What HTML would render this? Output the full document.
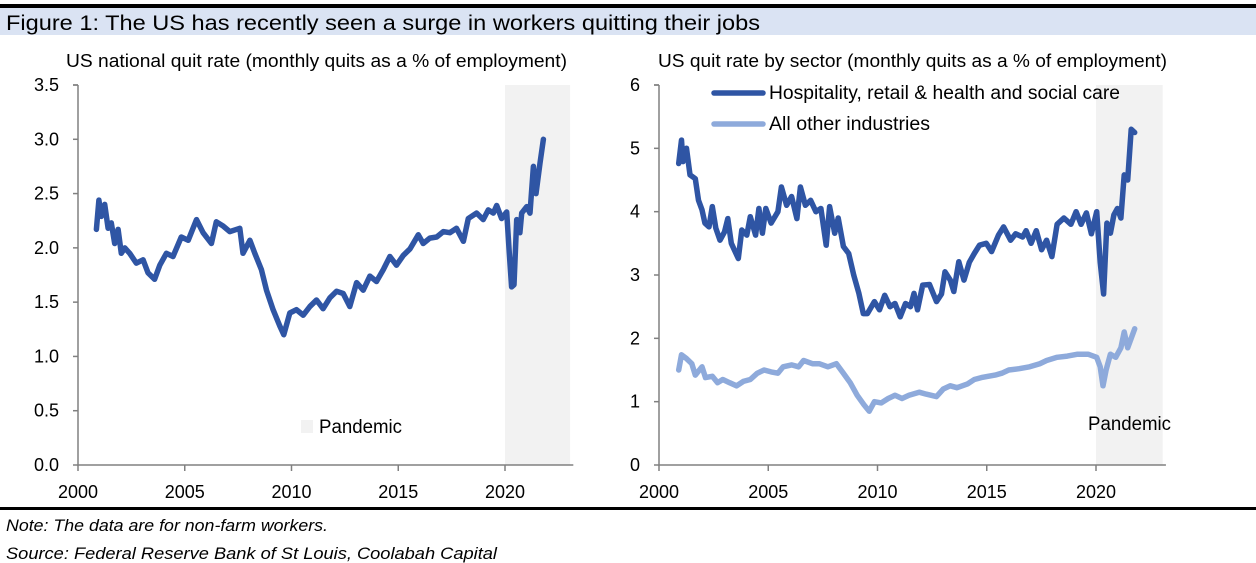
<!DOCTYPE html>
<html><head><meta charset="utf-8"><style>
html,body{margin:0;padding:0;background:#fff;}
svg{display:block;font-family:"Liberation Sans",sans-serif;}
</style></head><body>
<svg id="s" width="1256" height="563" xmlns="http://www.w3.org/2000/svg">
<rect x="0" y="4" width="1256" height="4" fill="#000"/>
<rect x="0" y="8" width="1256" height="27" fill="#dae3f3"/>
<text x="6" y="30" font-size="21" textLength="754" lengthAdjust="spacingAndGlyphs" fill="#000">Figure 1: The US has recently seen a surge in workers quitting their jobs</text>
<text x="66" y="67" font-size="18" textLength="501" lengthAdjust="spacingAndGlyphs">US national quit rate (monthly quits as a % of employment)</text>
<text x="658" y="67" font-size="18" textLength="509" lengthAdjust="spacingAndGlyphs">US quit rate by sector (monthly quits as a % of employment)</text>
<g id="left"></g>
<g id="right"></g>
<rect x="0" y="507" width="1256" height="3" fill="#000"/>
<text x="6" y="531" font-size="17" font-style="italic" textLength="322" lengthAdjust="spacingAndGlyphs">Note: The data are for non-farm workers.</text>
<text x="6" y="559" font-size="17" font-style="italic" textLength="491" lengthAdjust="spacingAndGlyphs">Source: Federal Reserve Bank of St Louis, Coolabah Capital</text>
</svg>
<script>
const natYears=[2000.86,2000.98,2001.09,2001.25,2001.41,2001.56,2001.72,2001.88,2002.03,2002.19,2002.42,2002.73,2003.05,2003.28,2003.59,2003.83,2004.14,2004.45,2004.84,2005.16,2005.55,2005.86,2006.25,2006.48,2006.80,2007.11,2007.58,2007.73,2008.05,2008.28,2008.59,2008.83,2009.14,2009.45,2009.64,2009.92,2010.23,2010.55,2010.86,2011.17,2011.48,2011.80,2012.11,2012.42,2012.73,2013.05,2013.36,2013.67,2013.98,2014.30,2014.61,2014.92,2015.23,2015.55,2015.94,2016.17,2016.48,2016.80,2017.11,2017.42,2017.73,2018.05,2018.28,2018.67,2018.98,2019.22,2019.45,2019.61,2019.84,2020.08,2020.20,2020.31,2020.42,2020.55,2020.70,2020.78,2021.02,2021.17,2021.33,2021.45,2021.64,2021.80];
const natVals=[2.17,2.44,2.29,2.40,2.18,2.23,2.04,2.17,1.95,2.00,1.95,1.86,1.89,1.77,1.71,1.84,1.95,1.92,2.10,2.07,2.26,2.14,2.04,2.24,2.20,2.15,2.18,1.95,2.07,1.95,1.80,1.61,1.43,1.28,1.20,1.40,1.43,1.38,1.46,1.52,1.44,1.54,1.60,1.58,1.46,1.68,1.61,1.74,1.69,1.80,1.92,1.84,1.93,1.99,2.12,2.04,2.09,2.10,2.15,2.14,2.18,2.06,2.27,2.32,2.26,2.35,2.32,2.39,2.27,2.33,1.95,1.64,1.66,2.26,2.14,2.32,2.38,2.32,2.75,2.50,2.78,3.00];
const hospYears=[2000.90,2001.03,2001.10,2001.26,2001.42,2001.66,2001.81,2001.97,2002.10,2002.29,2002.44,2002.60,2002.79,2003.00,2003.15,2003.31,2003.63,2003.79,2004.02,2004.18,2004.42,2004.57,2004.73,2004.89,2005.13,2005.44,2005.60,2005.84,2006.07,2006.31,2006.47,2006.70,2006.94,2007.18,2007.41,2007.65,2007.81,2008.04,2008.20,2008.44,2008.68,2008.91,2009.15,2009.35,2009.54,2009.86,2010.09,2010.33,2010.57,2010.80,2011.04,2011.28,2011.51,2011.67,2011.83,2012.07,2012.38,2012.70,2012.93,2013.09,2013.33,2013.49,2013.72,2013.96,2014.20,2014.43,2014.67,2014.98,2015.22,2015.54,2015.77,2016.09,2016.32,2016.64,2016.80,2017.03,2017.27,2017.51,2017.74,2017.98,2018.22,2018.53,2018.85,2019.09,2019.32,2019.56,2019.79,2020.03,2020.19,2020.35,2020.50,2020.66,2020.82,2020.98,2021.14,2021.29,2021.45,2021.61,2021.77];
const hospVals=[4.76,5.13,4.79,5.0,4.58,4.52,4.18,4.03,3.82,3.76,4.08,3.74,3.55,3.68,3.89,3.5,3.26,3.71,3.63,3.92,3.63,4.05,3.66,4.05,3.82,4.0,4.39,4.1,4.24,3.89,4.39,4.1,4.18,4.0,4.05,3.47,4.08,3.66,3.9,3.45,3.34,3.0,2.71,2.39,2.39,2.58,2.45,2.68,2.5,2.55,2.34,2.55,2.5,2.71,2.45,2.84,2.85,2.58,2.7,3.05,2.92,2.74,3.21,2.92,3.2,3.34,3.47,3.5,3.37,3.63,3.76,3.55,3.65,3.6,3.7,3.5,3.7,3.4,3.55,3.29,3.8,3.9,3.8,4.0,3.8,3.98,3.65,4.0,3.2,2.7,3.82,3.66,3.95,4.05,3.9,4.58,4.5,5.3,5.25];
const otherYears=[2000.90,2001.03,2001.26,2001.50,2001.66,2001.97,2002.13,2002.44,2002.68,2002.92,2003.23,2003.55,2003.86,2004.18,2004.50,2004.81,2005.13,2005.44,2005.68,2006.07,2006.39,2006.62,2007.02,2007.33,2007.73,2008.12,2008.44,2008.75,2009.07,2009.38,2009.62,2009.86,2010.17,2010.49,2010.80,2011.12,2011.44,2011.91,2012.22,2012.70,2013.01,2013.33,2013.64,2014.12,2014.43,2014.75,2015.06,2015.38,2015.69,2016.01,2016.48,2016.96,2017.43,2017.74,2018.22,2018.69,2019.16,2019.64,2020.03,2020.19,2020.32,2020.46,2020.66,2020.90,2021.14,2021.29,2021.45,2021.61,2021.77];
const otherVals=[1.5,1.74,1.68,1.6,1.42,1.55,1.38,1.4,1.3,1.35,1.3,1.25,1.32,1.35,1.45,1.5,1.47,1.45,1.55,1.58,1.55,1.65,1.6,1.6,1.55,1.6,1.45,1.3,1.1,0.95,0.85,1.0,0.98,1.05,1.1,1.05,1.1,1.15,1.12,1.08,1.2,1.25,1.22,1.28,1.35,1.38,1.4,1.42,1.45,1.5,1.52,1.55,1.6,1.65,1.7,1.72,1.75,1.75,1.7,1.55,1.25,1.5,1.75,1.7,1.85,2.1,1.85,2.0,2.15];
const xTicks=[2000,2005,2010,2015,2020];
const leftYTicks=["0.0","0.5","1.0","1.5","2.0","2.5","3.0","3.5"];
const rightYTicks=["0","1","2","3","4","5","6"];
const pandemic=[2020,2023.05];

const NS="http://www.w3.org/2000/svg";
function mk(tag,attrs,parent){const e=document.createElementNS(NS,tag);for(const k in attrs)e.setAttribute(k,attrs[k]);parent.appendChild(e);return e;}
function chart(g,x0,perYear,yMax,yTicks){
  const top=85,bot=465;
  const X=y=>x0+(y-2000)*perYear;
  const Y=v=>bot-(v/yMax)*(bot-top);
  const sh=mk('rect',{x:X(pandemic[0]),y:top,width:X(pandemic[1])-X(pandemic[0]),height:bot-top,fill:'#f2f2f2'},g);
  
  
  const ax=mk('path',{d:`M${x0},${top}H${x0-5}M${x0},${top}V${bot}H${X(2023.2)}`,stroke:'#808080','stroke-width':1.5,fill:'none'},g);
  
  
  yTicks.forEach(t=>{const v=parseFloat(t);
    mk('line',{x1:x0-5,x2:x0,y1:Y(v),y2:Y(v),stroke:'#808080','stroke-width':1.5},g);
    const tx=mk('text',{x:x0-19,y:Y(v)+6,'font-size':18,'text-anchor':'end'},g);tx.textContent=t;
    
    });
  xTicks.forEach(t=>{
    mk('line',{x1:X(t),x2:X(t),y1:bot,y2:bot+6,stroke:'#808080','stroke-width':1.5},g);
    const tx=mk('text',{x:X(t),y:bot+33,'font-size':18,'text-anchor':'middle'},g);tx.textContent=t;
    
    });
  return {X,Y};
}
function line(g,ax,xs,vs,color,name){
  const d=xs.map((x,i)=>(i?'L':'M')+ax.X(x).toFixed(1)+','+ax.Y(vs[i]).toFixed(1)).join('');
  const p=mk('path',{d,stroke:color,'stroke-width':5.5,fill:'none','stroke-linejoin':'round','stroke-linecap':'round'},g);
  
  
}
const L=document.getElementById('left'),R=document.getElementById('right');
const la=chart(L,78,21.35,3.5,leftYTicks);
line(L,la,natYears,natVals,'#2f55a4','national-quit-rate-line');
const lr=mk('rect',{x:301,y:420,width:12,height:13,fill:'#f2f2f2'},L);


const lt=mk('text',{x:319,y:433,'font-size':19,textLength:83,lengthAdjust:'spacingAndGlyphs'},L);lt.textContent='Pandemic';



const ra=chart(R,659,21.85,6,rightYTicks);
line(R,ra,otherYears,otherVals,'#8eaadb','other-industries-line');
line(R,ra,hospYears,hospVals,'#2f55a4','hospitality-line');
[['Hospitality, retail & health and social care','#2f55a4',93,'legend-hospitality',351],['All other industries','#8eaadb',124,'legend-other',161]].forEach(a=>{
  const l=mk('line',{x1:714,x2:763,y1:a[2],y2:a[2],stroke:a[1],'stroke-width':5.5,'stroke-linecap':'round'},R);
  
  
  const t=mk('text',{x:769,y:a[2]+6,'font-size':19,textLength:a[4],lengthAdjust:'spacingAndGlyphs'},R);t.textContent=a[0];
  
  
});
const rp=mk('text',{x:1088,y:430,'font-size':19,textLength:83,lengthAdjust:'spacingAndGlyphs'},R);rp.textContent='Pandemic';


</script>
</body></html>
